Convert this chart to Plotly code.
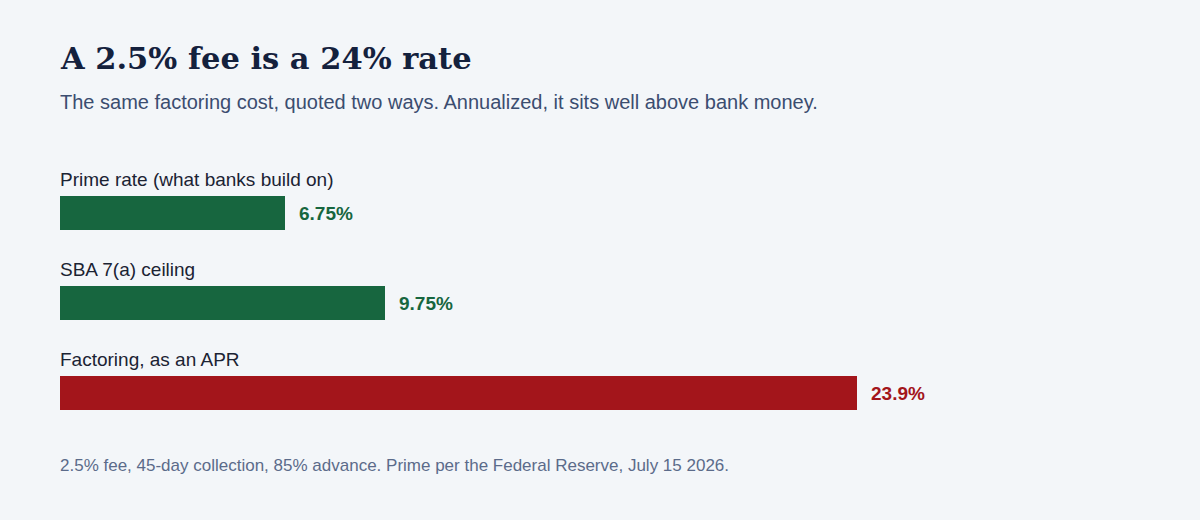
import plotly.graph_objects as go

categories = ["Prime rate (what banks build on)", "SBA 7(a) ceiling", "Factoring, as an APR"]
values = [6.75, 9.75, 23.9]
value_labels = ["6.75%", "9.75%", "23.9%"]
colors = ["#17663f", "#17663f", "#a3151b"]

title = "A 2.5% fee is a 24% rate"
subtitle = "The same factoring cost, quoted two ways. Annualized, it sits well above bank money."
footnote = "2.5% fee, 45-day collection, 85% advance. Prime per the Federal Reserve, July 15 2026."

W, H = 1200, 520
L, R, T, B = 60, 140, 168, 82
plot_h = H - T - B

def py(p):
    return (H - B - p) / plot_h

pos = list(range(len(categories)))

fig = go.Figure()
fig.add_trace(go.Bar(
    y=pos, x=values, orientation="h",
    marker=dict(color=colors, line=dict(width=0)),
    width=0.378, hoverinfo="skip",
))

annotations = []
for i, (cat, v, lab, c) in enumerate(zip(categories, values, value_labels, colors)):
    annotations.append(dict(
        x=0, y=i, xref="x", yref="y", text=cat, showarrow=False,
        xanchor="left", yanchor="middle", yshift=34, xshift=-2,
        font=dict(family="Liberation Sans, Arial, sans-serif", size=19, color="#1b2333"),
    ))
    annotations.append(dict(
        x=v, y=i, xref="x", yref="y", text=f"<b>{lab}</b>", showarrow=False,
        xanchor="left", yanchor="middle", xshift=12,
        font=dict(family="Liberation Sans, Arial, sans-serif", size=19, color=c),
    ))

annotations += [
    dict(x=0, y=py(58), xref="paper", yref="paper", text=f"<b>{title}</b>",
         showarrow=False, xanchor="left", yanchor="middle", xshift=-2,
         font=dict(family="Georgia, 'DejaVu Serif', serif", size=30.5, color="#14213d")),
    dict(x=0, y=py(102), xref="paper", yref="paper", text=subtitle,
         showarrow=False, xanchor="left", yanchor="middle", xshift=-2,
         font=dict(family="Liberation Sans, Arial, sans-serif", size=20, color="#3b4d70")),
    dict(x=0, y=py(465), xref="paper", yref="paper", text=footnote,
         showarrow=False, xanchor="left", yanchor="middle", xshift=-2,
         font=dict(family="Liberation Sans, Arial, sans-serif", size=17, color="#5b6b8a")),
]

fig.update_layout(
    width=W, height=H,
    margin=dict(l=L, r=R, t=T, b=B, pad=0),
    paper_bgcolor="#f3f6f9", plot_bgcolor="#f3f6f9",
    showlegend=False,
    xaxis=dict(range=[0, 30], visible=False, fixedrange=True),
    yaxis=dict(range=[2.5, -0.5], visible=False, fixedrange=True),
    annotations=annotations,
    bargap=0,
)

fig.write_html("out.html", config={"displayModeBar": False})
